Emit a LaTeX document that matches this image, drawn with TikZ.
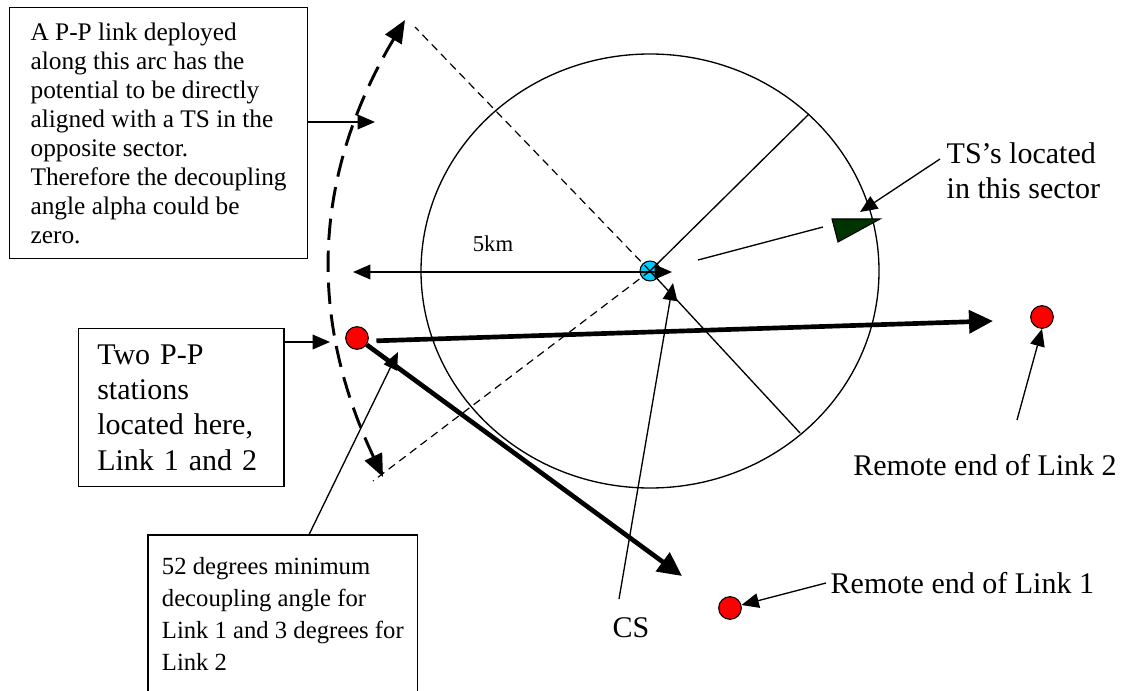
\documentclass[tikz,border=0pt]{standalone}
\usepackage{fontspec}
\setmainfont{Liberation Serif}
\usetikzlibrary{arrows.meta}

\definecolor{csblue}{RGB}{0,204,255}
\definecolor{tsgreen}{RGB}{0,51,0}

\begin{document}
\begin{tikzpicture}[
  x=0.75pt, y=-0.75pt,
  big/.style={font=\fontsize{22.5}{26.5}\selectfont},
  mid/.style={font=\fontsize{19}{21.75}\selectfont},
  note/.style={
    draw, line width=0.9pt, anchor=north west, align=left,
    inner xsep=10pt, inner ysep=4pt,
  },
  pointer/.style={-{Triangle[length=13pt, width=11pt]}, line width=1pt},
  twoway/.style={{Triangle[length=13pt, width=11pt]}-{Triangle[length=13pt, width=11pt]}, line width=1pt},
  link/.style={-{Triangle[length=18pt, width=17pt]}, line width=3.5pt},
  station/.style={circle, draw, fill=red, minimum size=17pt, inner sep=0pt, line width=0.8pt},
  sweep/.style={
    {Triangle[length=17pt, width=14pt]}-{Triangle[length=17pt, width=14pt]},
    line width=2.2pt, dash pattern=on 16pt off 8pt,
  },
  bound/.style={line width=0.9pt, dash pattern=on 6pt off 4pt},
]
\useasboundingbox[fill=white] (0,0) rectangle (1123,691);

% ---- Central station and its 5km coverage ------------------------------
\node[circle, draw, fill=csblue, minimum size=15pt, inner sep=0pt, line width=0.8pt]
  (cs) at (650,271) {};
\draw[line width=1pt] (cs.center) ellipse[x radius=171.75pt, y radius=162.75pt];

% ---- Sector boundaries --------------------------------------------------
\coordinate (secup)   at (809,114);
\coordinate (secdown) at (800,433);
\coordinate (bndup)   at (415,27);
\coordinate (bnddown) at (373,481);
\draw[line width=1pt] (cs.center) -- (secup);
\draw[line width=1pt] (cs.center) -- (secdown);
\draw[bound] (cs.center) -- (bndup);
\draw[bound] (cs.center) -- (bnddown);

% ---- Arc of possible P-P positions -------------------------------------
\coordinate (arctop) at (405,20);
\coordinate (arcbot) at (383,477);
\draw[sweep] (arctop) to[bend right=28] (arcbot);

% ---- Radius label -------------------------------------------------------
\coordinate (kmleft)  at (353,272);
\coordinate (kmright) at (672,272);
\draw[twoway] (kmleft) -- (kmright);
\node[font=\fontsize{17}{20}\selectfont] (km) at (493,244) {5km};

% ---- Test stations ------------------------------------------------------
\filldraw[fill=tsgreen, line width=0.8pt] (832,219) -- (880,219) -- (838,242) -- cycle;
\coordinate (tsray)  at (698,260);
\coordinate (tsnear) at (823,227);
\draw[line width=1pt] (tsray) -- (tsnear);
\node[big, align=left, anchor=north west] (tslabel) at (942,138) {TS's located\\in this sector};
\coordinate (tstail) at (940,159);
\coordinate (tshead) at (860,212);
\draw[pointer] (tstail) -- (tshead);

% ---- CS label -----------------------------------------------------------
\node[big] (cslabel) at (631,628) {CS};
\coordinate (cstail) at (619,599);
\coordinate (cshead) at (673,283);
\draw[pointer] (cstail) -- (cshead);

% ---- P-P stations and their links ---------------------------------------
\node[station] (pp)   at (357,338) {};
\node[station] (far2) at (1042,317) {};
\node[station] (far1) at (730,608) {};
\coordinate (link2end) at (993,321);
\coordinate (link1end) at (682,576);
\draw[link, shorten <=6pt] (pp.-15) -- (link2end);
\draw[link] (pp.-35) -- (link1end);

\node[big] (far2label) at (985,465) {Remote end of Link 2};
\coordinate (far2tail) at (1017,420);
\draw[pointer] (far2tail) -- (far2.south);
\node[big, anchor=west] (far1label) at (826,583) {Remote end of Link 1};
\draw[pointer] (far1label.west) -- (far1);

% ---- Explanatory boxes --------------------------------------------------
\node[note, mid, minimum width=223.5pt, minimum height=188pt] (arcnote) at (9,7)
  {A P-P link deployed\\along this arc has the\\potential to be directly\\aligned with a TS in the\\opposite sector.\\Therefore the decoupling\\angle alpha could be\\zero.};
\coordinate (arcmark) at (375,122);
\draw[pointer] (arcnote.east |- arcmark) -- (arcmark);

\node[note, big, text width=126pt, inner xsep=14pt, minimum height=118.5pt] (pair) at (78,328)
  {Two P-P\\stations\\located here,\\Link 1 and 2};
\coordinate (pairmark) at (330,342);
\draw[pointer] (pair.east |- pairmark) -- (pairmark);

\node[note, draw=none, font=\fontsize{18.5}{24}\selectfont, minimum width=200pt, inner ysep=16pt]
  (decoup) at (148,535)
  {52 degrees minimum\\decoupling angle for\\Link 1 and 3 degrees for\\Link 2};
\draw[line width=0.9pt] (decoup.north west) rectangle ([yshift=-40pt]decoup.south east);
\coordinate (decouphead) at (398,352);
\draw[pointer] ([xshift=19.5pt]decoup.north) -- (decouphead);

\end{tikzpicture}
\end{document}
